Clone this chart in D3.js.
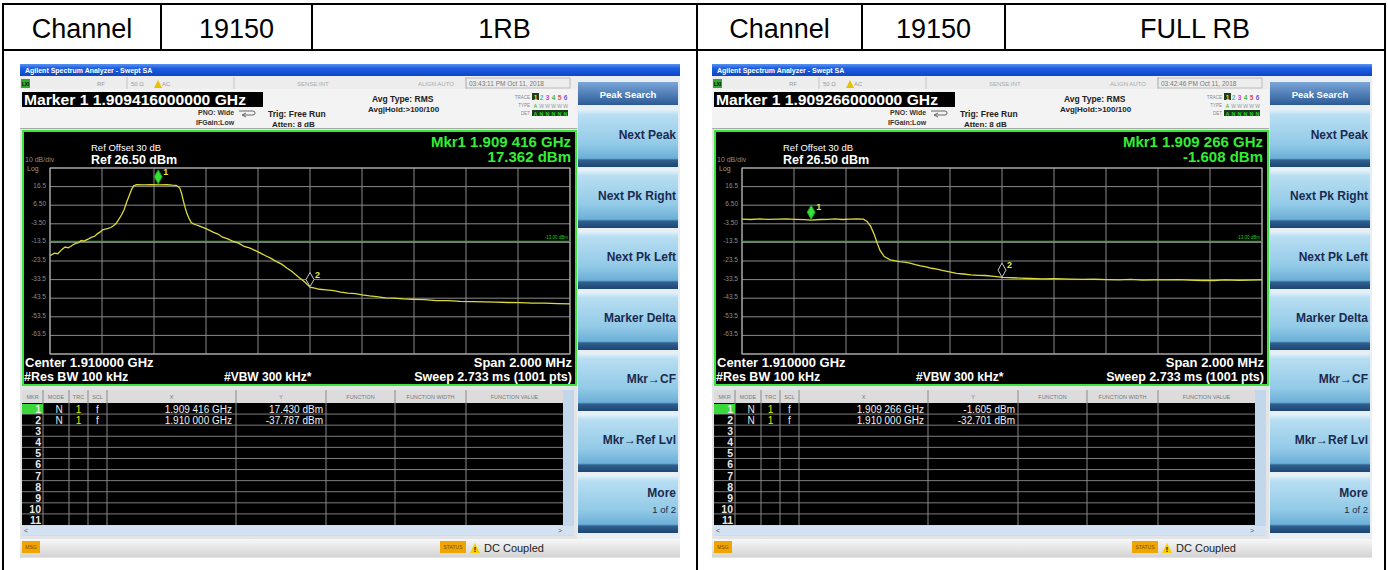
<!DOCTYPE html>
<html>
<head>
<meta charset="utf-8">
<script src="https://d3js.org/d3.v7.min.js"></script>
<style>
  body { margin: 0; background: #fff; }
  svg { display: block; font-family: "Liberation Sans", Arial, sans-serif; }
</style>
</head>
<body>
<div id="chart"></div>
<script>
var width = 1388, height = 570;

// header row of the report table
var headerLeft = ["Channel", "19150", "1RB"];
var headerRight = ["Channel", "19150", "FULL RB"];

// 1RB trace (MHz, dBm)
var rb1Freq = [1909.000, 1909.017, 1909.030, 1909.045, 1909.058, 1909.070, 1909.079, 1909.090, 1909.099, 1909.110,
  1909.120, 1909.130, 1909.140, 1909.150, 1909.161, 1909.172, 1909.182, 1909.192, 1909.202, 1909.213,
  1909.223, 1909.234, 1909.244, 1909.254, 1909.264, 1909.275, 1909.285, 1909.295, 1909.306, 1909.314,
  1909.322, 1909.333, 1909.360, 1909.390, 1909.420, 1909.450, 1909.470, 1909.485, 1909.492, 1909.499,
  1909.506, 1909.512, 1909.519, 1909.526, 1909.534, 1909.543, 1909.552, 1909.561, 1909.578, 1909.595,
  1909.612, 1909.629, 1909.646, 1909.664, 1909.684, 1909.705, 1909.725, 1909.747, 1909.767, 1909.788,
  1909.808, 1909.829, 1909.850, 1909.871, 1909.891, 1909.912, 1909.932, 1909.953, 1909.968, 1909.981,
  1910.000, 1910.018, 1910.036, 1910.063, 1910.091, 1910.118, 1910.146, 1910.174, 1910.201, 1910.229,
  1910.256, 1910.290, 1910.325, 1910.360, 1910.394, 1910.440, 1910.486, 1910.532, 1910.578, 1910.623,
  1910.669, 1910.715, 1910.761, 1910.807, 1910.855, 1910.903, 1910.952, 1911.000];
var rb1Level = [-20.7, -19.3, -19.6, -17.4, -16.0, -16.4, -15.7, -14.6, -14.0, -13.6,
  -12.5, -12.8, -12.1, -11.5, -10.7, -10.2, -8.9, -8.0, -6.7, -6.4,
  -6.0, -5.5, -4.6, -3.4, -1.3, 1.2, 4.1, 8.2, 12.1, 15.0,
  16.9, 17.5, 17.4, 17.5, 17.4, 17.5, 17.3, 17.2, 16.6, 15.7,
  12.9, 9.4, 5.6, 2.3, -0.4, -2.8, -3.5, -4.0, -4.9, -5.8,
  -6.9, -8.1, -9.0, -10.7, -11.6, -13.0, -13.9, -15.7, -16.5, -17.8,
  -19.1, -20.7, -22.1, -23.8, -25.2, -27.4, -29.3, -31.8, -33.4, -34.9,
  -37.6, -38.1, -38.7, -39.0, -39.4, -40.2, -40.8, -41.0, -41.7, -42.3,
  -42.6, -43.3, -43.5, -43.9, -44.1, -44.3, -44.8, -44.8, -45.2, -45.3,
  -45.5, -45.6, -45.8, -45.9, -46.1, -46.2, -46.4, -46.6];

// FULL RB trace (MHz, dBm)
var fullFreq = [1909.000, 1909.035, 1909.069, 1909.103, 1909.137, 1909.172, 1909.206, 1909.240, 1909.265, 1909.300,
  1909.330, 1909.360, 1909.385, 1909.415, 1909.440, 1909.467, 1909.481, 1909.495, 1909.509, 1909.520,
  1909.531, 1909.547, 1909.570, 1909.590, 1909.605, 1909.625, 1909.646, 1909.667, 1909.687, 1909.708,
  1909.729, 1909.750, 1909.770, 1909.798, 1909.825, 1909.852, 1909.880, 1909.908, 1909.935, 1909.970,
  1910.003, 1910.040, 1910.072, 1910.110, 1910.155, 1910.200, 1910.265, 1910.310, 1910.355, 1910.402,
  1910.450, 1910.495, 1910.540, 1910.585, 1910.630, 1910.677, 1910.720, 1910.770, 1910.814, 1910.860,
  1910.910, 1910.955, 1911.000];
var fullLevel = [-1.0, -1.2, -0.9, -1.1, -1.0, -0.8, -1.1, -1.3, -1.5, -1.2,
  -1.1, -0.9, -1.2, -1.0, -0.8, -1.0, -2.2, -4.9, -9.4, -13.9,
  -17.8, -21.1, -22.9, -23.4, -23.8, -24.1, -24.7, -25.5, -26.1, -26.6,
  -27.4, -27.9, -28.6, -29.4, -30.1, -30.5, -31.0, -31.2, -31.3, -31.8,
  -32.3, -32.5, -32.7, -32.9, -33.1, -33.0, -33.2, -33.4, -33.3, -33.5,
  -33.6, -33.4, -33.8, -33.6, -33.7, -33.5, -33.8, -34.0, -34.0, -33.7,
  -33.9, -33.8, -33.6];

// marker table values
var rb1MkrFreq = [1909.416, 1910.000];
var rb1MkrLevel = [17.430, -37.787];
var rb1MkrX = ["1.909 416 GHz", "1.910 000 GHz"];
var rb1MkrY = ["17.430 dBm", "-37.787 dBm"];
var fullMkrFreq = [1909.266, 1910.000];
var fullMkrLevel = [-1.605, -32.701];
var fullMkrX = ["1.909 266 GHz", "1.910 000 GHz"];
var fullMkrY = ["-1.605 dBm", "-32.701 dBm"];

var markerLine = ["Marker 1 1.909416000000 GHz", "Marker 1 1.909266000000 GHz"];
var readoutFreq = ["Mkr1 1.909 416 GHz", "Mkr1 1.909 266 GHz"];
var readoutLevel = ["17.362 dBm", "-1.608 dBm"];
var clockText = ["03:43:11 PM Oct 11, 2018", "03:42:46 PM Oct 11, 2018"];

var yTickLabels = ["16.5", "6.50", "-3.50", "-13.5", "-23.5", "-33.5", "-43.5", "-53.5", "-63.5"];
var displayLine = -13;
var softkeys = ["Next Peak", "Next Pk Right", "Next Pk Left", "Marker Delta", "Mkr\u2192CF", "Mkr\u2192Ref Lvl", "More"];
var tableCols = ["MKR", "MODE", "TRC", "SCL", "X", "Y", "FUNCTION", "FUNCTION WIDTH", "FUNCTION VALUE"];

var svg = d3.select("#chart").append("svg").attr("width", width).attr("height", height);
var defs = svg.append("defs");
function vgrad(id, stops) {
  var lg = defs.append("linearGradient").attr("id", id).attr("x1", 0).attr("y1", 0).attr("x2", 0).attr("y2", 1);
  stops.forEach(function(s) { lg.append("stop").attr("offset", s[0]).attr("stop-color", s[1]); });
}
vgrad("titleG", [[0, "#5a92f2"], [0.35, "#1e5ee2"], [1, "#0d46c6"]]);
vgrad("keyG", [[0, "#e6f4fb"], [0.1, "#b8def2"], [0.6, "#92cae7"], [0.85, "#6cafd7"], [0.88, "#30608f"], [1, "#1c4572"]]);
vgrad("headG", [[0, "#7aa6d8"], [1, "#2b5a96"]]);
vgrad("barG", [[0, "#f7f7f7"], [1, "#d4d4d4"]]);

function txt(g, x, y, s, o) {
  o = o || {};
  var t = g.append("text").attr("x", x).attr("y", y).text(s)
    .attr("font-size", o.size || 8)
    .attr("fill", o.fill || "#000")
    .attr("font-weight", o.weight || "normal")
    .attr("text-anchor", o.anchor || "start");
  if (o.len) t.attr("textLength", o.len).attr("lengthAdjust", "spacingAndGlyphs");
  return t;
}

// ---- report table frame ----
var frame = svg.append("g").attr("stroke", "#000").attr("stroke-width", 2);
[4, 50].forEach(function(yy) {
  frame.append("line").attr("x1", 2).attr("x2", 1386).attr("y1", yy).attr("y2", yy);
});
[3, 697, 1385].forEach(function(xx) {
  frame.append("line").attr("x1", xx).attr("x2", xx).attr("y1", 3).attr("y2", 570);
});
[161, 312, 862, 1005].forEach(function(xx) {
  frame.append("line").attr("x1", xx).attr("x2", xx).attr("y1", 3).attr("y2", 51);
});
var cellEdges = [[3, 161, 312, 697], [697, 862, 1005, 1385]];
[headerLeft, headerRight].forEach(function(cells, k) {
  cells.forEach(function(c, i) {
    txt(svg, (cellEdges[k][i] + cellEdges[k][i + 1]) / 2, 38, c, {size: 27, anchor: "middle", fill: "#000"});
  });
});

// ---- one analyzer screen ----
function drawPanel(k, freq, level, mkrFreq, mkrLevel, mkrX, mkrY) {
  var dx = k === 0 ? 0 : 692;
  var g = svg.append("g").attr("transform", "translate(" + dx + ",0)");

  g.append("rect").attr("x", 20).attr("y", 64).attr("width", 660).attr("height", 494).attr("fill", "#e2e4e6");

  // title bar
  g.append("rect").attr("x", 20).attr("y", 64).attr("width", 660).attr("height", 12).attr("fill", "url(#titleG)");
  txt(g, 25, 73, "Agilent Spectrum Analyzer - Swept SA", {size: 7, fill: "#fff", weight: "bold"});

  // status row
  g.append("rect").attr("x", 20).attr("y", 76).attr("width", 557).attr("height", 13).attr("fill", "#ededed");
  g.append("rect").attr("x", 21).attr("y", 79).attr("width", 9).attr("height", 9).attr("fill", "#2faa2f");
  txt(g, 22, 86, "LXI", {size: 4.5, fill: "#000", weight: "bold"});
  [127, 234, 466].forEach(function(xx) {
    g.append("line").attr("x1", xx).attr("x2", xx).attr("y1", 77).attr("y2", 89).attr("stroke", "#c4c4c4");
  });
  txt(g, 97, 86, "RF", {size: 6, fill: "#999"});
  txt(g, 131, 86, "50 \u03a9", {size: 6, fill: "#999"});
  g.append("path").attr("d", "M154,88 L158,80 L162,88 Z").attr("fill", "#e8c000");
  txt(g, 162, 86, "AC", {size: 6, fill: "#999"});
  txt(g, 297, 86, "SENSE:INT", {size: 6, fill: "#aaa"});
  txt(g, 418, 86, "ALIGN AUTO", {size: 6, fill: "#aaa"});
  g.append("rect").attr("x", 466).attr("y", 78).attr("width", 104).attr("height", 10).attr("fill", "none").attr("stroke", "#bbb");
  txt(g, 469, 86, clockText[k], {size: 6.5, fill: "#777"});

  // info row
  g.append("rect").attr("x", 20).attr("y", 89).attr("width", 557).attr("height", 40).attr("fill", "#f3f3f3");
  g.append("line").attr("x1", 20).attr("x2", 577).attr("y1", 128.5).attr("y2", 128.5).attr("stroke", "#aaa");
  g.append("rect").attr("x", 22).attr("y", 92).attr("width", 241).attr("height", 15).attr("fill", "#000");
  txt(g, 24, 104.5, markerLine[k], {size: 14, fill: "#fff", weight: "bold", len: 222});
  txt(g, 198, 115, "PNO: Wide", {size: 7, fill: "#333", weight: "bold"});
  txt(g, 196, 125, "IFGain:Low", {size: 7, fill: "#333", weight: "bold"});
  g.append("path").attr("d", "M239,111 h14 a2,2 0 0 1 0,4 h-10 M246,113 l-4,2 l4,2")
    .attr("fill", "none").attr("stroke", "#666").attr("stroke-width", 1);
  txt(g, 268, 117, "Trig: Free Run", {size: 8.5, fill: "#222", weight: "bold"});
  txt(g, 272, 127, "Atten: 8 dB", {size: 8, fill: "#222", weight: "bold"});
  txt(g, 372, 102, "Avg Type: RMS", {size: 8.5, fill: "#222", weight: "bold"});
  txt(g, 368, 112, "Avg|Hold:>100/100", {size: 8, fill: "#222", weight: "bold"});

  // trace indicator
  txt(g, 530, 99, "TRACE", {size: 4.5, fill: "#888", anchor: "end"});
  txt(g, 530, 107, "TYPE", {size: 4.5, fill: "#888", anchor: "end"});
  txt(g, 530, 115, "DET", {size: 4.5, fill: "#888", anchor: "end"});
  var trColors = ["#e6e600", "#27c7d8", "#d040d0", "#39b839", "#e04a4a", "#6a5ae6"];
  g.append("rect").attr("x", 532).attr("y", 93).attr("width", 7).attr("height", 7).attr("fill", "#1d3d1d");
  g.append("rect").attr("x", 532).attr("y", 102).attr("width", 36).attr("height", 6).attr("fill", "#f0f0f0");
  g.append("rect").attr("x", 532).attr("y", 110).attr("width", 36).attr("height", 6).attr("fill", "#1a3a1a");
  trColors.forEach(function(c, i) {
    txt(g, 535.5 + i * 6, 99.5, String(i + 1), {size: 6.5, fill: c, weight: "bold", anchor: "middle"});
    txt(g, 535.5 + i * 6, 107.5, i === 0 ? "A" : "W", {size: 5, fill: i === 0 ? "#2a2" : "#999", anchor: "middle"});
    txt(g, 535.5 + i * 6, 115.5, i === 0 ? "A" : "N", {size: 5.5, fill: "#3c3", weight: "bold", anchor: "middle"});
  });

  // graph area
  g.append("rect").attr("x", 23).attr("y", 131).attr("width", 553).attr("height", 254)
    .attr("fill", "#000").attr("stroke", "#3ae63a").attr("stroke-width", 2);

  var x = d3.scaleLinear().domain([1909, 1911]).range([50, 570]);
  var y = d3.scaleLinear().domain([-73.5, 26.5]).range([354, 168]);

  var grid = g.append("g");
  grid.selectAll(".vg").data(x.ticks(10)).join("line")
    .attr("x1", function(d) { return x(d); }).attr("x2", function(d) { return x(d); })
    .attr("y1", y(26.5)).attr("y2", y(-73.5))
    .attr("stroke", "#8a8a8a").attr("stroke-width", 1);
  grid.selectAll(".hg").data(d3.range(-73.5, 27, 10)).join("line")
    .attr("x1", x(1909)).attr("x2", x(1911))
    .attr("y1", function(d) { return y(d); }).attr("y2", function(d) { return y(d); })
    .attr("stroke", "#8a8a8a").attr("stroke-width", 1);
  grid.append("rect").attr("x", x(1909)).attr("y", y(26.5)).attr("width", x(1911) - x(1909))
    .attr("height", y(-73.5) - y(26.5)).attr("fill", "none").attr("stroke", "#b8b8b8");

  grid.selectAll(".yl").data(yTickLabels).join("text")
    .attr("x", 46).attr("y", function(d) { return y(+d) + 1; })
    .attr("text-anchor", "end").attr("font-size", 6.5).attr("fill", "#8c8c8c").text(function(d) { return d; });
  txt(g, 25, 162, "10 dB/div", {size: 7, fill: "#8c8c8c"});
  txt(g, 27, 171, "Log", {size: 7, fill: "#9a9a9a"});

  txt(g, 91, 150.5, "Ref Offset 30 dB", {size: 9.5, fill: "#fff"});
  txt(g, 91, 163.5, "Ref 26.50 dBm", {size: 12.5, fill: "#fff", weight: "bold"});
  txt(g, 571, 146.5, readoutFreq[k], {size: 15, fill: "#33ee33", weight: "bold", anchor: "end"});
  txt(g, 571, 161.5, readoutLevel[k], {size: 15, fill: "#33ee33", weight: "bold", anchor: "end"});

  // display line
  g.append("line").attr("x1", x(1909)).attr("x2", x(1911))
    .attr("y1", y(displayLine)).attr("y2", y(displayLine))
    .attr("stroke", "#22b022").attr("stroke-width", 1.2);
  txt(g, 568, y(displayLine) - 2, "-13.00 dBm", {size: 4.5, fill: "#2c2", anchor: "end"});

  // trace
  var pts = d3.zip(freq, level);
  g.append("path").datum(pts)
    .attr("d", d3.line().x(function(d) { return x(d[0]); }).y(function(d) { return y(d[1]); }))
    .attr("fill", "none").attr("stroke", "#dada3c").attr("stroke-width", 1.3);

  // markers
  mkrFreq.forEach(function(f, i) {
    var mx = x(f), my = y(mkrLevel[i]);
    g.append("path")
      .attr("d", "M" + mx + "," + (my - 15) + " L" + (mx + 4) + "," + (my - 8) + " L" + mx + "," + (my - 1) + " L" + (mx - 4) + "," + (my - 8) + " Z")
      .attr("fill", i === 0 ? "#33e033" : "#000")
      .attr("stroke", i === 0 ? "#1d9a1d" : "#c8c8c8").attr("stroke-width", 1);
    txt(g, mx + 5, my - 10, String(i + 1), {size: 9, fill: "#e6e64a", weight: "bold"});
  });

  // bottom annotations
  txt(g, 25, 367, "Center 1.910000 GHz", {size: 13, fill: "#fff", weight: "bold"});
  txt(g, 24, 381, "#Res BW 100 kHz", {size: 12.5, fill: "#fff", weight: "bold"});
  txt(g, 224, 381, "#VBW 300 kHz*", {size: 12, fill: "#fff", weight: "bold"});
  txt(g, 572, 367, "Span 2.000 MHz", {size: 13, fill: "#fff", weight: "bold", anchor: "end"});
  txt(g, 572, 381, "Sweep  2.733 ms (1001 pts)", {size: 12.5, fill: "#fff", weight: "bold", anchor: "end"});

  // marker table
  var colX = [22, 43, 69, 88, 107, 236, 326, 395, 466, 563];
  g.append("rect").attr("x", 22).attr("y", 390).attr("width", 552).attr("height", 146).attr("fill", "#cfdbe8");
  g.append("rect").attr("x", 22).attr("y", 390).attr("width", 541).attr("height", 13).attr("fill", "#dcdcdc");
  tableCols.forEach(function(c, i) {
    txt(g, (colX[i] + colX[i + 1]) / 2, 399, c, {size: 5.5, fill: "#7a7a7a", anchor: "middle"});
  });
  g.append("rect").attr("x", 22).attr("y", 403).attr("width", 541).attr("height", 122).attr("fill", "#000");
  var rowY = d3.scaleLinear().domain([0, 11]).range([403, 525]);
  g.selectAll(".rl").data(d3.range(1, 11)).join("line")
    .attr("x1", 22).attr("x2", 563)
    .attr("y1", function(d) { return rowY(d); }).attr("y2", function(d) { return rowY(d); })
    .attr("stroke", "#7c7c7c").attr("stroke-width", 1);
  g.selectAll(".cl").data(colX.slice(1, 9)).join("line")
    .attr("x1", function(d) { return d; }).attr("x2", function(d) { return d; })
    .attr("y1", 390).attr("y2", 525)
    .attr("stroke", "#8a8a8a").attr("stroke-width", 1);
  g.append("rect").attr("x", 22).attr("y", rowY(0) + 1).attr("width", 21).attr("height", 10).attr("fill", "#3ad83a");
  d3.range(11).forEach(function(r) {
    txt(g, 41, rowY(r) + 10, String(r + 1), {size: 10.5, fill: "#e8e8e8", weight: "bold", anchor: "end"});
  });
  mkrX.forEach(function(v, r) {
    var by = rowY(r) + 9.5;
    txt(g, 59, by, "N", {size: 10, fill: "#e8e8e8", anchor: "middle"});
    txt(g, 78.5, by, "1", {size: 10, fill: "#e8e800", anchor: "middle"});
    txt(g, 97.5, by, "f", {size: 10, fill: "#e8e8e8", anchor: "middle"});
    txt(g, 232, by, v, {size: 10, fill: "#f0f0f0", anchor: "end"});
    txt(g, 323, by, mkrY[r], {size: 10, fill: "#f0f0f0", anchor: "end"});
  });
  g.append("rect").attr("x", 563).attr("y", 390).attr("width", 11).attr("height", 136).attr("fill", "#c2d6ec");
  g.append("rect").attr("x", 22).attr("y", 526).attr("width", 552).attr("height", 9).attr("fill", "#d2e2f3");
  txt(g, 24, 533, "<", {size: 7, fill: "#556"});
  txt(g, 558, 533, ">", {size: 7, fill: "#556"});

  // softkeys
  g.append("rect").attr("x", 577).attr("y", 76).attr("width", 103).attr("height", 463).attr("fill", "#e9eef3");
  g.append("rect").attr("x", 578).attr("y", 82).attr("width", 100).attr("height", 23).attr("fill", "url(#headG)");
  txt(g, 628, 98, "Peak Search", {size: 9.5, fill: "#fff", weight: "bold", anchor: "middle"});
  softkeys.forEach(function(s, i) {
    var top = 109 + 61 * i;
    g.append("rect").attr("x", 578).attr("y", top).attr("width", 100).attr("height", 58).attr("fill", "url(#keyG)");
    if (s === "More") {
      txt(g, 676, top + 22, s, {size: 12, fill: "#1b2a4e", weight: "bold", anchor: "end"});
      txt(g, 676, top + 38, "1 of 2", {size: 9.5, fill: "#1b2a4e", anchor: "end"});
    } else {
      txt(g, 676, top + 30, s, {size: 12, fill: "#1b2a4e", weight: "bold", anchor: "end"});
    }
  });

  // status bar
  g.append("rect").attr("x", 20).attr("y", 539).attr("width", 660).attr("height", 18).attr("fill", "url(#barG)");
  g.append("rect").attr("x", 22).attr("y", 541).attr("width", 18).attr("height", 12).attr("fill", "#f0a400");
  txt(g, 31, 549, "MSG", {size: 5, fill: "#7a4a00", anchor: "middle"});
  g.append("rect").attr("x", 440).attr("y", 541).attr("width", 26).attr("height", 12).attr("fill", "#f0a400");
  txt(g, 453, 549, "STATUS", {size: 5, fill: "#7a4a00", anchor: "middle"});
  g.append("path").attr("d", "M470,553 L475,543 L480,553 Z").attr("fill", "#f2d000");
  txt(g, 475, 552, "!", {size: 7, fill: "#000", weight: "bold", anchor: "middle"});
  txt(g, 484, 552, "DC Coupled", {size: 11, fill: "#222"});
}

drawPanel(0, rb1Freq, rb1Level, rb1MkrFreq, rb1MkrLevel, rb1MkrX, rb1MkrY);
drawPanel(1, fullFreq, fullLevel, fullMkrFreq, fullMkrLevel, fullMkrX, fullMkrY);
</script>
</body>
</html>
